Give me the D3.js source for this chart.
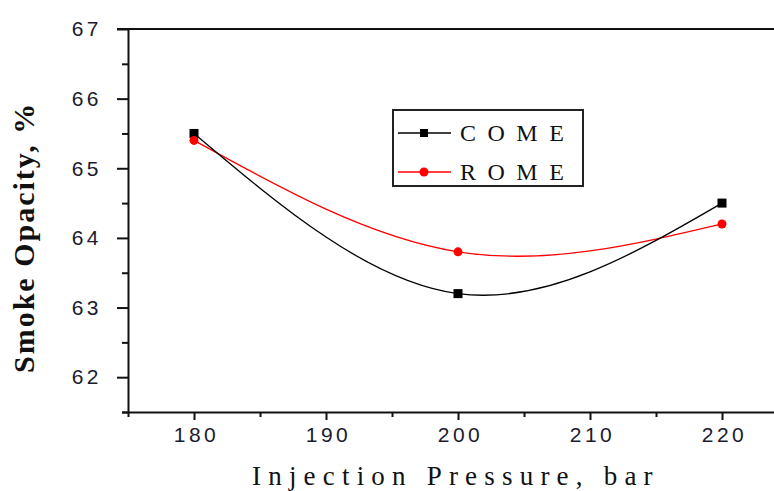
<!DOCTYPE html>
<html>
<head>
<meta charset="utf-8">
<script src="https://cdn.jsdelivr.net/npm/d3@7"></script>
<style>
  html, body { margin: 0; padding: 0; background: #fff; overflow: hidden; }
  svg { display: block; }
</style>
</head>
<body>
<svg id="chart" width="774" height="491"></svg>
<script>
// values
const pressure = [180, 200, 220];
const come = [65.5, 63.2, 64.5];
const rome = [65.4, 63.8, 64.2];
const xTicks = [180, 190, 200, 210, 220];
const yTicks = [62, 63, 64, 65, 66, 67];
const seriesNames = ["COME", "ROME"];

const width = 774, height = 491;
const margin = {top: 29, right: -14, bottom: 79, left: 128};

const svg = d3.select("#chart");

const x = d3.scaleLinear()
    .domain([175, 225])
    .range([margin.left, width - margin.right]);

const y = d3.scaleLinear()
    .domain([61.5, 67])
    .range([height - margin.bottom, margin.top]);

const tickFont = "'Liberation Sans', Arial, sans-serif";
const serif = "'Liberation Serif', 'Times New Roman', serif";

// minor ticks
const minorX = svg.append("g")
    .attr("transform", `translate(0,${y(61.5)})`)
    .call(d3.axisBottom(x).tickValues(d3.range(175, 226, 10)).tickSize(5).tickFormat(""));
const minorY = svg.append("g")
    .attr("transform", `translate(${x(175)},0)`)
    .call(d3.axisLeft(y).tickValues(d3.range(61.5, 67, 1)).tickSize(6).tickFormat(""));
[minorX, minorY].forEach(g => {
  g.select(".domain").remove();
  g.selectAll("line").attr("stroke", "#111").attr("stroke-width", 2);
});

// major axes
const xAxis = svg.append("g")
    .attr("transform", `translate(0,${y(61.5)})`)
    .call(d3.axisBottom(x).tickValues(xTicks).tickSize(8).tickSizeOuter(0).tickPadding(7));
xAxis.select(".domain").attr("d", `M${x(175) - 6},0.5H${width + 20}`);

const yAxis = svg.append("g")
    .attr("transform", `translate(${x(175)},0)`)
    .call(d3.axisLeft(y).tickValues(yTicks).tickSize(11).tickSizeOuter(0).tickPadding(10)
      .tickFormat(d3.format("d")));

[xAxis, yAxis].forEach(g => {
  g.selectAll("path, line").attr("stroke", "#111").attr("stroke-width", 2);
  g.selectAll("text")
    .attr("fill", "#1a1a2e")
    .style("font-family", tickFont)
    .style("font-size", "21px")
    .style("letter-spacing", "3.5px");
});
xAxis.selectAll("text").attr("dx", "2px");
yAxis.selectAll("text").attr("dx", "-5px");

// top frame line
svg.append("line")
    .attr("x1", x(175) - 11).attr("x2", width + 20)
    .attr("y1", y(67)).attr("y2", y(67))
    .attr("stroke", "#111").attr("stroke-width", 2);

// series
const line = d3.line()
    .x((d, i) => x(pressure[i]))
    .y(d => y(d))
    .curve(d3.curveNatural);

svg.append("path").datum(rome)
    .attr("d", line).attr("fill", "none")
    .attr("stroke", "#ff0000").attr("stroke-width", 1.3);
svg.append("path").datum(come)
    .attr("d", line).attr("fill", "none")
    .attr("stroke", "#000").attr("stroke-width", 1.3);

svg.append("g").selectAll("rect").data(come).join("rect")
    .attr("x", (d, i) => x(pressure[i]) - 4.5)
    .attr("y", d => y(d) - 4.5)
    .attr("width", 9).attr("height", 9)
    .attr("fill", "#000");

svg.append("g").selectAll("circle").data(rome).join("circle")
    .attr("cx", (d, i) => x(pressure[i]))
    .attr("cy", d => y(d))
    .attr("r", 4.5)
    .attr("fill", "#ff0000");

// legend
const legend = svg.append("g").attr("transform", "translate(393,110)");
legend.append("rect")
    .attr("width", 190).attr("height", 76)
    .attr("fill", "#fff").attr("stroke", "#222").attr("stroke-width", 2);
const legColors = ["#000", "#ff0000"];
seriesNames.forEach((name, i) => {
  const row = legend.append("g").attr("transform", `translate(0,${23 + i * 39})`);
  row.append("line").attr("x1", 5).attr("x2", 58)
      .attr("stroke", legColors[i]).attr("stroke-width", 1.5);
  if (i === 0) {
    row.append("rect").attr("x", 27).attr("y", -4).attr("width", 8).attr("height", 8).attr("fill", "#000");
  } else {
    row.append("circle").attr("cx", 31).attr("r", 4.5).attr("fill", "#ff0000");
  }
  row.append("text")
      .attr("x", 67).attr("y", 8)
      .attr("fill", "#111")
      .style("font-family", serif)
      .style("font-size", "24px")
      .style("letter-spacing", "11.5px")
      .text(name);
});

// axis titles
svg.append("text")
    .attr("x", 252).attr("y", 485)
    .attr("fill", "#111")
    .style("font-family", serif)
    .style("font-size", "27px")
    .style("letter-spacing", "7.2px")
    .text("Injection Pressure, bar");

svg.append("text")
    .attr("transform", "translate(34,373) rotate(-90)")
    .attr("fill", "#111")
    .style("font-family", serif)
    .style("font-size", "30px")
    .style("font-weight", "bold")
    .style("letter-spacing", "2px")
    .text("Smoke Opacity, %");
</script>
</body>
</html>
